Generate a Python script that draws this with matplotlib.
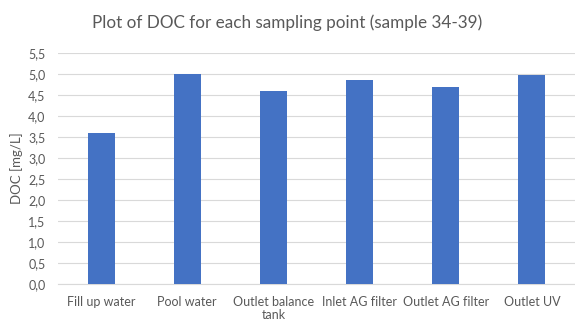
import matplotlib
matplotlib.use("Agg")
import matplotlib.pyplot as plt
import numpy as np

categories = ["Fill up water", "Pool water", "Outlet balance\ntank",
              "Inlet AG filter", "Outlet AG filter", "Outlet UV"]
doc_values = [3.60, 5.00, 4.60, 4.86, 4.68, 4.97]
yticks = np.arange(0, 5.51, 0.5)

plt.rcParams["font.family"] = ["Lato", "DejaVu Sans"]
text_color = "#595959"

fig = plt.figure(figsize=(5.75, 3.22), dpi=100)
ax = fig.add_axes([0.101, 0.118, 0.899, 0.718])

x = np.arange(len(categories))
ax.bar(x, doc_values, width=0.313, color="#4472C4", zorder=3)

ax.set_xlim(-0.5, len(categories) - 0.5)
ax.set_ylim(0, 5.5)
ax.set_yticks(yticks)
ax.set_yticklabels([f"{v:.1f}".replace(".", ",") for v in yticks])
ax.set_xticks(x)
ax.set_xticklabels(categories, linespacing=1.15)

ax.grid(axis="y", color="#D9D9D9", linewidth=0.8, zorder=0)
for side in ["top", "right", "left"]:
    ax.spines[side].set_visible(False)
ax.spines["bottom"].set_color("#D9D9D9")
ax.tick_params(axis="both", length=0, labelsize=9, colors=text_color)
ax.tick_params(axis="y", pad=9)
ax.tick_params(axis="x", pad=8.5)

ax.set_ylabel("DOC [mg/L]", fontsize=9.5, color=text_color, labelpad=4)
fig.suptitle("Plot of DOC for each sampling point (sample 34-39)",
             fontsize=12.3, color=text_color, x=0.5, y=0.955)

fig.savefig("out.png", dpi=100)
